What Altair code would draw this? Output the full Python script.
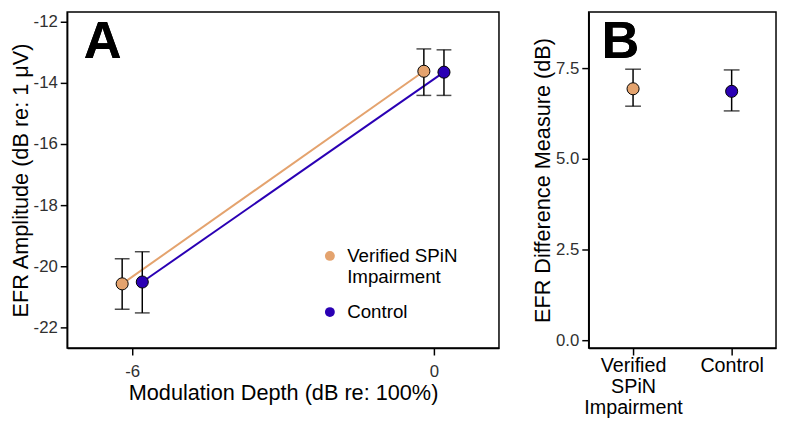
import altair as alt
import pandas as pd

groups = ["Verified SPiN Impairment", "Control"]
colors = ["#E4A36E", "#2A00B4"]
depths = [-6, 0]
dodge = [-0.2, 0.2]

amp_mean_vsi = [-20.57, -13.62]
amp_lo_vsi = [-21.40, -14.41]
amp_hi_vsi = [-19.75, -12.89]
amp_mean_ctl = [-20.51, -13.65]
amp_lo_ctl = [-21.52, -14.41]
amp_hi_ctl = [-19.52, -12.92]

diff_mean = [6.93, 6.86]
diff_lo = [6.45, 6.32]
diff_hi = [7.47, 7.45]

rows = []
for g, m, lo, hi, dd in [
    (groups[0], amp_mean_vsi, amp_lo_vsi, amp_hi_vsi, dodge[0]),
    (groups[1], amp_mean_ctl, amp_lo_ctl, amp_hi_ctl, dodge[1]),
]:
    for d, mm, l, h in zip(depths, m, lo, hi):
        rows.append({"group": g, "depth": d, "xpos": d + dd, "mean": mm, "lo": l, "hi": h})
dfA = pd.DataFrame(rows)
dfB = pd.DataFrame({"group": groups, "mean": diff_mean, "lo": diff_lo, "hi": diff_hi})

FONT = "Liberation Sans"
color_scale = alt.Scale(domain=groups, range=colors)

legendA = alt.Legend(
    title=None, orient="none", legendX=257, legendY=238, padding=0,
    symbolType="circle", symbolSize=100, symbolStrokeWidth=0, symbolOpacity=1,
    labelFont=FONT, labelFontSize=19, labelColor="black", labelOffset=8,
    rowPadding=16, labelBaseline="middle",
    labelExpr="datum.label == 'Verified SPiN Impairment' ? ['Verified SPiN', 'Impairment'] : datum.label",
)

xA = alt.X("xpos:Q", scale=alt.Scale(domain=[-7.294, 1.294], nice=False, zero=False),
           axis=alt.Axis(values=depths, title="Modulation Depth (dB re: 100%)",
                         labelExpr="toString(datum.value)", labelPadding=9, titlePadding=3))
yA = alt.Y("mean:Q", scale=alt.Scale(domain=[-22.67, -11.68], nice=False, zero=False),
           axis=alt.Axis(values=[-22, -20, -18, -16, -14, -12], title="EFR Amplitude (dB re: 1 μV)",
                         labelExpr="toString(datum.value)"))

baseA = alt.Chart(dfA)
linesA = baseA.mark_line(strokeWidth=2).encode(
    x=xA, y=yA,
    color=alt.Color("group:N", scale=color_scale, sort=groups, legend=legendA),
    detail="group:N",
)
rulesA = baseA.mark_rule(color="black", strokeWidth=1.5).encode(x="xpos:Q", y="lo:Q", y2="hi:Q")
capsLoA = baseA.mark_tick(orient="horizontal", color="black", size=15, thickness=1.5).encode(x="xpos:Q", y="lo:Q")
capsHiA = baseA.mark_tick(orient="horizontal", color="black", size=15, thickness=1.5).encode(x="xpos:Q", y="hi:Q")
pointsA = baseA.mark_point(filled=True, size=150, stroke="black", strokeWidth=1, opacity=1).encode(
    x="xpos:Q", y="mean:Q",
    fill=alt.Fill("group:N", scale=color_scale, sort=groups, legend=legendA),
)
labelA = alt.Chart(dfB).mark_text(text="A", font=FONT, fontSize=53, fontWeight="bold",
                                  align="center", baseline="alphabetic").encode(
    x=alt.value(36), y=alt.value(47))
panelA = alt.layer(linesA, rulesA, capsLoA, capsHiA, pointsA, labelA).properties(width=438, height=341)

xB = alt.X("group:N", sort=groups, scale=alt.Scale(type="point", padding=0.45),
           axis=alt.Axis(title=None, labelAngle=0, labelFontSize=20, labelColor="black",
                         labelLineHeight=21, labelPadding=1, labelBaseline="top",
                         labelExpr="datum.label == 'Verified SPiN Impairment' ? ['Verified', 'SPiN', 'Impairment'] : datum.label"))
yB = alt.Y("mean:Q", scale=alt.Scale(domain=[-0.22, 9.05], nice=False, zero=False),
           axis=alt.Axis(values=[0, 2.5, 5, 7.5], format=".1f", title="EFR Difference Measure (dB)"))
baseB = alt.Chart(dfB)
rulesB = baseB.mark_rule(color="black", strokeWidth=1.5).encode(x=xB, y=alt.Y("lo:Q"), y2="hi:Q")
capsLoB = baseB.mark_tick(orient="horizontal", color="black", size=16, thickness=1.5).encode(x=xB, y="lo:Q")
capsHiB = baseB.mark_tick(orient="horizontal", color="black", size=16, thickness=1.5).encode(x=xB, y="hi:Q")
pointsB = baseB.mark_point(filled=True, size=150, stroke="black", strokeWidth=1, opacity=1).encode(
    x=xB, y=yB, fill=alt.Fill("group:N", scale=color_scale, legend=None))
labelB = baseB.mark_text(text="B", font=FONT, fontSize=53, fontWeight="bold",
                         align="center", baseline="alphabetic").encode(
    x=alt.value(32), y=alt.value(47))
panelB = alt.layer(rulesB, capsLoB, capsHiB, pointsB, labelB).properties(width=190, height=341)

chart = alt.hconcat(panelA, panelB, spacing=31).resolve_scale(
    color="independent", fill="independent"
).resolve_legend(fill="independent", color="independent").properties(
    padding=0
).configure_view(stroke="black", strokeWidth=1.5).configure_axis(
    labelFont=FONT, labelFontSize=17, labelColor="#303030",
    titleFont=FONT, titleFontSize=22, titleFontWeight="normal", titleColor="black",
    domainColor="black", domainWidth=1.5, tickColor="black", tickWidth=1.5, tickSize=7,
    labelPadding=3, titlePadding=1, grid=False,
)

chart.save("out.html", embed_options={"renderer": "svg", "actions": False})
